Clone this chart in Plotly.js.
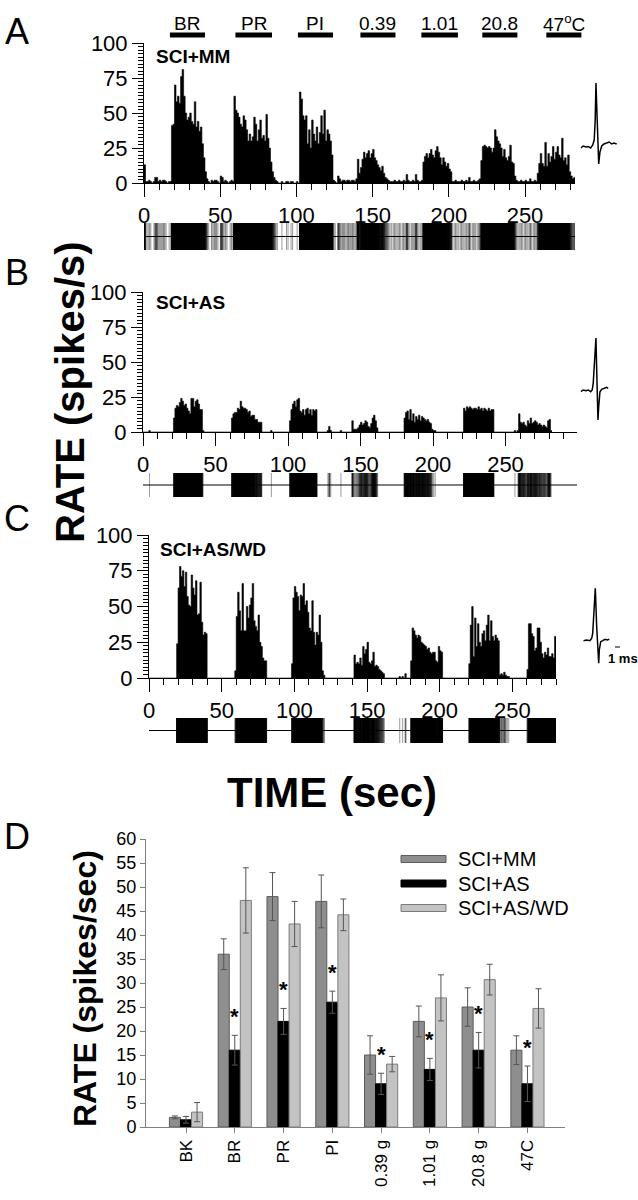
<!DOCTYPE html>
<html><head><meta charset="utf-8">
<script src="https://cdn.plot.ly/plotly-3.0.1.min.js"></script>
<style>html,body{margin:0;padding:0;background:#fff}#chart{width:638px;height:1200px}</style>
</head><body><div id="chart"></div>
<script>
// ---------- Panel A-C: firing rate histograms (1-s bins, spikes/s) ----------
const rateMM = [13,
 1,1,2,1,0,1,4,4,1,2,1,2,2,1,0,1,1,
 41,42,70,58,62,57,76,81,62,50,45,47,50,44,42,58,40,44,37,40,28,18,8,
 3,1,0,
 2,1,2,2,1,0,5,4,1,2,1,0,1,2,1,
 62,52,50,47,42,40,48,45,38,30,35,30,33,47,42,30,38,45,32,34,30,49,32,25,15,
 8,4,2,1,
 0,0,1,0,0,1,1,0,1,1,0,0,1,0,
 65,60,48,45,48,28,38,25,45,35,30,40,28,36,48,35,52,30,38,35,30,20,
 2,1,0,5,3,1,2,2,1,2,2,1,2,2,1,3,
 17,7,11,17,22,18,21,23,18,21,24,18,16,13,11,9,12,7,4,3,2,1,1,
 1,2,1,1,2,1,1,2,1,6,2,1,1,2,1,6,2,1,1,2,
 15,19,21,18,21,24,20,18,23,26,22,18,13,18,15,12,14,10,8,
 1,1,2,1,1,1,2,1,1,2,1,4,1,1,2,1,1,2,3,
 16,26,27,26,25,26,25,22,25,38,33,30,28,25,19,24,18,16,19,27,15,14,
 5,2,1,1,2,1,1,2,1,1,3,1,1,2,1,
 7,14,21,14,12,29,12,21,15,19,26,17,22,26,20,18,32,16,18,13,20,8,5,3,4];

const rateAS = [0,0,0,0,1,
 0,0,0,0,0,0,0,0,0,0,0,0,0,0,0,0,
 10,17,19,18,21,24,22,19,20,17,15,13,24,24,18,22,23,20,16,16,
 1,
 0,0,0,0,0,0,0,0,0,0,0,0,0,0,0,0,0,0,0,
 10,13,14,14,17,16,22,18,17,17,16,14,15,11,12,12,9,9,7,7,7,
 0,0,0,0,0,0,1,
 0,0,0,0,0,0,0,0,0,0,0,0,
 8,16,20,22,18,23,24,15,14,16,12,16,17,13,16,12,16,15,16,
 0,0,0,0,0,0,0,1,4,1,0,0,0,0,0,0,1,0,0,0,0,0,0,0,
 8,2,2,2,3,5,7,5,6,8,7,4,3,6,10,12,8,3,
 0,0,0,0,0,0,0,0,0,0,0,0,0,0,0,0,0,0,
 10,14,15,9,16,8,13,7,11,9,12,8,11,10,9,8,9,7,6,2,1,1,
 0,0,0,0,0,0,0,0,0,0,0,0,0,0,0,0,0,0,0,
 17,15,18,17,18,17,16,17,17,16,18,16,17,15,17,16,15,17,15,16,16,
 0,0,0,0,0,0,0,0,0,0,0,0,0,0,1,0,1,
 13,7,6,7,5,4,8,6,10,6,7,8,7,5,6,5,4,5,4,3,8,9,1];

const rateWD = [0,0,0,0,0,0,0,0,0,0,0,0,0,0,0,0,0,0,0,
 24,63,78,71,75,64,74,57,51,50,72,63,58,68,44,45,67,39,30,32,31,
 0,0,0,0,0,0,0,0,0,0,0,0,0,0,0,0,0,0,0,
 5,43,60,47,33,66,33,33,50,42,51,56,66,40,36,33,44,25,22,14,12,12,
 0,0,0,0,0,0,0,0,0,0,0,0,0,0,0,0,0,
 10,56,64,60,57,47,58,57,66,51,54,46,35,33,54,32,23,32,30,44,25,5,2,
 0,0,0,0,0,0,0,0,0,0,0,0,0,0,0,0,0,0,0,0,
 16,10,11,10,14,9,22,17,20,25,11,10,12,18,8,9,8,6,5,4,3,
 0,0,0,0,0,0,0,0,0,0,
 1,0,1,0,3,0,0,0,
 12,35,33,30,28,30,29,25,24,23,22,20,21,18,17,18,18,12,11,22,19,18,
 0,0,0,0,0,0,0,0,0,0,0,0,0,0,0,0,0,0,
 10,37,50,15,42,22,38,25,22,31,33,26,37,44,26,40,29,26,30,28,26,
 2,3,2,4,2,1,1,
 0,0,0,0,0,0,0,0,0,0,0,0,
 6,38,38,31,29,19,21,35,35,25,17,14,18,16,21,15,15,17,14,29];

// stimulus periods (s) and labels
const stimLabels = ['BR','PR','PI','0.39','1.01','20.8','47<sup>o</sup>C'];
const stimStart  = [17, 60, 101, 142, 182, 222, 264];
const stimEnd    = [40, 84, 124, 165, 206, 245, 287];

// spike waveforms (ms, relative amplitude)
const waveMM_ms  = [0,0.5,1.1,1.5,2.0,2.4,2.7,2.9,3.05,3.3,3.45,3.6,3.85,4.2,4.65,5.2,5.7,6.2,6.65,7.2];
const waveMM_amp = [-1,1,0,0.5,-1,2,7,27,64,17,-6,-17,-5,1,3,4,5,3,4,3];
const waveAS_ms  = [0,0.5,1.05,1.5,2.0,2.3,2.5,2.8,3.05,3.2,3.3,3.45,3.6,3.85,4.2,4.65,5.2,5.5];
const waveAS_amp = [-1.7,0,-0.7,0,-1.7,0,6.7,30,52,20,-6.7,-30,-16.7,-1.7,0.7,1.7,2.7,1.7];
const waveWD_ms  = [0,0.68,1.34,1.68,1.88,2.14,2.4,2.68,2.94,3.08,3.2,3.48,3.88,4.34,4.8,5.2];
const waveWD_amp = [-0.7,0,-0.7,1.7,6.7,30,51.7,13.3,-13.3,-23.3,-10,-1.7,-0.7,0.7,0,0.7];
const scaleBar_ms = [6.34, 7.34];

// ---------- Panel D: mean rates ----------
const categories = ['BK','BR','PR','PI','0.39 g','1.01 g','20.8 g','47C'];
const meanMM = [2, 36, 48, 47, 15, 22, 25, 16];
const semMM  = [0.3, 3.2, 5, 5.5, 4, 3.2, 4, 3];
const meanAS = [1.5, 16, 22, 26, 9, 12, 16, 9];
const semAS  = [0.7, 3.1, 2.7, 2.3, 2.2, 2.3, 3.7, 3.7];
const meanWD = [3.1, 47.2, 42.3, 44.2, 13.1, 26.9, 30.7, 24.7];
const semWD  = [2, 6.8, 4.7, 3.3, 1.6, 4.8, 3.2, 4.1];
const significant = [false, true, true, true, true, true, true, true];
const groupNames = ['SCI+MM','SCI+AS','SCI+AS/WD'];

// ---------- helpers ----------
const W = 638, H = 1200;
const px = X => X / W;
const py = Y => 1 - Y / H;
const FONT = 'Liberation Sans, Arial, Helvetica, sans-serif';

function rasterOf(rates) {
  const xs = [], ys = [];
  rates.forEach((r, t) => {
    const n = Math.round(r);
    for (let k = 0; k < n; k++) { const s = t + (k + 0.5) / n; xs.push(s, s, null); ys.push(0, 1, null); }
  });
  return {xs, ys};
}

function histX(x0, x1, tmax, anchor) {
  return {domain:[px(x0), px(x1)], range:[0, tmax], anchor, showline:true, linecolor:'#000', linewidth:1,
    ticks:'outside', ticklen:13, tickwidth:1, tickcolor:'#000', tick0:0, dtick:50,
    minor:{dtick:10, ticks:'outside', ticklen:6, tickwidth:1, tickcolor:'#000', showgrid:false},
    showgrid:false, zeroline:false, tickfont:{family:FONT, size:22, color:'#000'}};
}
function histY(ybot, ytop, anchor) {
  return {domain:[py(ybot), py(ytop)], range:[0, 100], anchor, showline:true, linecolor:'#000', linewidth:1,
    ticks:'outside', ticklen:11, tickwidth:1, tickcolor:'#000', tick0:0, dtick:25,
    minor:{dtick:2.5, ticks:'outside', ticklen:5, tickwidth:1, tickcolor:'#000', showgrid:false},
    showgrid:false, zeroline:false, tickfont:{family:FONT, size:22, color:'#000'}};
}
function hidden(domain, range, anchor) {
  return {domain, range, anchor, visible:false, showgrid:false, zeroline:false};
}

const traces = [];
const panels = [
  {rates: rateMM, xa:'x',  yh:'y',  yr:'y2', tmax:282.8},
  {rates: rateAS, xa:'x2', yh:'y3', yr:'y4', tmax:299.3},
  {rates: rateWD, xa:'x3', yh:'y5', yr:'y6', tmax:280}
];
panels.forEach(p => {
  const ex = p.rates.map((_, t) => t).concat([p.rates.length]);
  const ey = p.rates.concat([p.rates[p.rates.length - 1]]);
  traces.push({type:'scatter', mode:'lines', x:ex, y:ey, line:{shape:'hv', color:'#000', width:0.6},
    fill:'tozeroy', fillcolor:'#000', xaxis:p.xa, yaxis:p.yh, hoverinfo:'skip'});
  const r = rasterOf(p.rates);
  traces.push({type:'scatter', mode:'lines', x:r.xs, y:r.ys, xaxis:p.xa, yaxis:p.yr,
    line:{color:'#000', width:0.4, simplify:false}, connectgaps:false, hoverinfo:'skip'});
  traces.push({type:'scatter', mode:'lines', x:[0, p.tmax], y:[0.5, 0.5], xaxis:p.xa, yaxis:p.yr,
    line:{color:'#000', width:1}, hoverinfo:'skip'});
});

// stimulus bars
const sx = [], sy = [];
stimStart.forEach((s, i) => { sx.push(s, stimEnd[i], null); sy.push(0.5, 0.5, null); });
traces.push({type:'scatter', mode:'lines', x:sx, y:sy, xaxis:'x5', yaxis:'y8',
  line:{color:'#000', width:5}, cliponaxis:false, hoverinfo:'skip'});

// waveforms
traces.push({type:'scatter', mode:'lines', x:waveMM_ms, y:waveMM_amp, xaxis:'x6', yaxis:'y9', line:{color:'#000', width:1.5}, cliponaxis:false});
traces.push({type:'scatter', mode:'lines', x:waveAS_ms, y:waveAS_amp, xaxis:'x7', yaxis:'y10', line:{color:'#000', width:1.5}, cliponaxis:false});
traces.push({type:'scatter', mode:'lines', x:waveWD_ms, y:waveWD_amp, xaxis:'x8', yaxis:'y11', line:{color:'#000', width:1.5}, cliponaxis:false});
traces.push({type:'scatter', mode:'lines', x:scaleBar_ms, y:[-7, -7], xaxis:'x8', yaxis:'y11', line:{color:'#000', width:1.2}, cliponaxis:false});

// panel D bars
const barStyles = [
  {y:meanMM, e:semMM, color:'#8e8e8e', line:'#5c5c5c'},
  {y:meanAS, e:semAS, color:'#000000', line:'#000000'},
  {y:meanWD, e:semWD, color:'#c3c3c3', line:'#7c7c7c'}
];
barStyles.forEach((b, i) => {
  traces.push({type:'bar', name:groupNames[i], x:categories, y:b.y, xaxis:'x4', yaxis:'y7',
    marker:{color:b.color, line:{color:b.line, width:1}},
    error_y:{type:'data', array:b.e, visible:true, color:'#555', thickness:1, width:3}, hoverinfo:'skip'});
});

// ---------- annotations ----------
const ann = [];
function txt(text, X, Y, size, opts = {}) {
  ann.push(Object.assign({text, x:px(X), y:py(Y), xref:'paper', yref:'paper', showarrow:false,
    xanchor:'center', yanchor:'middle', font:{family:FONT, size, color:'#000'}}, opts));
}
txt('A', 17, 31, 36);
txt('B', 17, 272, 36);
txt('C', 17, 518, 36);
txt('D', 17, 836, 36);
txt('<b>SCI+MM</b>', 154, 57, 19, {xanchor:'left'});
txt('<b>SCI+AS</b>', 154, 302, 19, {xanchor:'left'});
txt('<b>SCI+AS/WD</b>', 158, 550, 19, {xanchor:'left'});
txt('<b>RATE (spikes/s)</b>', 70, 392, 40, {textangle:-90});
txt('<b>TIME (sec)</b>', 332, 792, 42);
txt('<b>RATE (spikes/sec)</b>', 85, 989, 32, {textangle:-90});
txt('<b>1 ms</b>', 623, 658, 13);
stimLabels.forEach((l, i) => {
  ann.push({text:l, x:(stimStart[i] + stimEnd[i]) / 2, xref:'x5', y:py(23), yref:'paper', showarrow:false,
    xanchor:'center', yanchor:'middle', font:{family:FONT, size:19, color:'#000'}});
});
categories.forEach((c, i) => {
  if (!significant[i]) return;
  ann.push({text:'<b>*</b>', x:c, xref:'x4', y:meanAS[i] + semAS[i], yref:'y7', showarrow:false,
    xanchor:'center', yanchor:'bottom', yshift:4, font:{family:FONT, size:22, color:'#000'}});
});
// legend (drawn manually to mimic wide swatches)
const legendRows = [859, 883.5, 908];
const shapes = [];
groupNames.forEach((g, i) => {
  const Y = legendRows[i];
  shapes.push({type:'rect', xref:'paper', yref:'paper', x0:px(401), x1:px(446), y0:py(Y + 3.5), y1:py(Y - 3.5),
    fillcolor:barStyles[i].color, line:{color:barStyles[i].line, width:1}});
  txt(g, 456, Y, 20, {xanchor:'left'});
});

// ---------- layout ----------
const catAxis = {domain:[px(146), px(565)], type:'category', range:[-0.82, 7.77], anchor:'y7',
  showline:true, linecolor:'#808080', linewidth:1, ticks:'outside', ticklen:5, tickcolor:'#808080',
  tickangle:-90, tickfont:{family:FONT, size:17, color:'#000'}, showgrid:false, zeroline:false};
const rateAxis = {domain:[py(1127), py(839)], range:[0, 60], anchor:'x4', dtick:5, tick0:0,
  showline:true, linecolor:'#808080', linewidth:1, ticks:'outside', ticklen:5, tickcolor:'#808080',
  tickfont:{family:FONT, size:18, color:'#000'}, showgrid:false, zeroline:false};

const layout = {
  width:W, height:H, margin:{l:0, r:0, t:0, b:0}, paper_bgcolor:'#fff', plot_bgcolor:'rgba(0,0,0,0)',
  showlegend:false, barmode:'group', bargap:0.32, bargroupgap:0,
  font:{family:FONT, color:'#000'},
  xaxis:  histX(144, 575, 282.8, 'y'),
  yaxis:  histY(183, 43, 'x'),
  yaxis2: hidden([py(250), py(223)], [0, 1], 'x'),
  xaxis2: histX(143, 577, 299.3, 'y3'),
  yaxis3: histY(432, 292, 'x2'),
  yaxis4: hidden([py(497), py(473)], [0, 1], 'x2'),
  xaxis3: histX(149, 556, 280, 'y5'),
  yaxis5: histY(678, 535, 'x3'),
  yaxis6: hidden([py(743), py(718)], [0, 1], 'x3'),
  xaxis4: catAxis,
  yaxis7: rateAxis,
  xaxis5: hidden([px(144), px(600)], [0, (600 - 144) / 1.524], 'y8'),
  yaxis8: hidden([py(40), py(10)], [0, 3], 'x5'),
  xaxis6: hidden([px(580.7), px(617)], [0, 7.26], 'y9'),
  yaxis9: hidden([py(170), py(80)], [-23, 67], 'x6'),
  xaxis7: hidden([px(580.7), px(609)], [0, 5.66], 'y10'),
  yaxis10: hidden([py(430), py(330)], [-40, 60], 'x7'),
  xaxis8: hidden([px(583.3), px(625)], [0, 8.34], 'y11'),
  yaxis11: hidden([py(670), py(580)], [-30, 60], 'x8'),
  annotations: ann,
  shapes: shapes
};

Plotly.newPlot('chart', traces, layout, {staticPlot:true, displayModeBar:false});
</script></body></html>
